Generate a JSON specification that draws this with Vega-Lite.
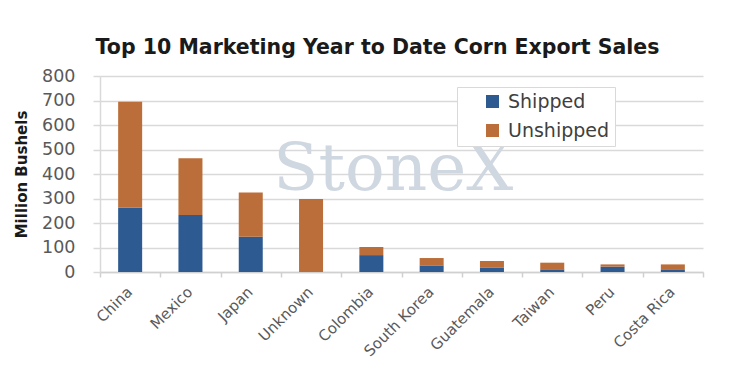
{
  "$schema": "https://vega.github.io/schema/vega-lite/v6.json",
  "width": 603,
  "height": 196,
  "autosize": {"type": "none"},
  "padding": {"left": 100, "top": 76, "right": 51, "bottom": 102},
  "background": "white",
  "title": {
    "text": "Top 10 Marketing Year to Date Corn Export Sales",
    "font": "DejaVu Sans",
    "fontSize": 20.5,
    "fontWeight": "bold",
    "color": "#1a1a1a",
    "anchor": "middle",
    "dx": -24,
    "offset": 9
  },
  "config": {
    "view": {"stroke": null},
    "font": "DejaVu Sans"
  },
  "datasets": {
    "sales": [
      {"country": "China", "status": "Shipped", "value": 262},
      {"country": "China", "status": "Unshipped", "value": 433},
      {"country": "Mexico", "status": "Shipped", "value": 233},
      {"country": "Mexico", "status": "Unshipped", "value": 231},
      {"country": "Japan", "status": "Shipped", "value": 144},
      {"country": "Japan", "status": "Unshipped", "value": 180},
      {"country": "Unknown", "status": "Shipped", "value": 0},
      {"country": "Unknown", "status": "Unshipped", "value": 298},
      {"country": "Colombia", "status": "Shipped", "value": 69},
      {"country": "Colombia", "status": "Unshipped", "value": 33},
      {"country": "South Korea", "status": "Shipped", "value": 27},
      {"country": "South Korea", "status": "Unshipped", "value": 30},
      {"country": "Guatemala", "status": "Shipped", "value": 17},
      {"country": "Guatemala", "status": "Unshipped", "value": 28},
      {"country": "Taiwan", "status": "Shipped", "value": 11},
      {"country": "Taiwan", "status": "Unshipped", "value": 27},
      {"country": "Peru", "status": "Shipped", "value": 22},
      {"country": "Peru", "status": "Unshipped", "value": 9},
      {"country": "Costa Rica", "status": "Shipped", "value": 11},
      {"country": "Costa Rica", "status": "Unshipped", "value": 20}
    ],
    "watermark": [
      {"country": "Colombia", "value": 416, "label": "StoneX"}
    ]
  },
  "layer": [
    {
      "data": {"name": "sales"},
      "mark": {"type": "bar", "width": 24},
      "encoding": {
        "x": {
          "field": "country",
          "type": "nominal",
          "sort": ["China", "Mexico", "Japan", "Unknown", "Colombia", "South Korea", "Guatemala", "Taiwan", "Peru", "Costa Rica"],
          "scale": {"paddingInner": 0, "paddingOuter": 0},
          "axis": {
            "title": null,
            "labelAngle": -45,
            "labelFontSize": 15,
            "labelColor": "#595959",
            "labelPadding": 7,
            "labelOffset": -6,
            "domainColor": "#d0d0d0",
            "domainWidth": 1.5,
            "tickColor": "#d0d0d0",
            "tickWidth": 1.5,
            "tickSize": 5,
            "tickBand": "extent",
            "grid": false
          }
        },
        "y": {
          "field": "value",
          "type": "quantitative",
          "stack": "zero",
          "scale": {"domain": [0, 800], "nice": false},
          "axis": {
            "title": "Million Bushels",
            "titleFontSize": 15,
            "titleFontWeight": "bold",
            "titleColor": "#1a1a1a",
            "titlePadding": 12,
            "values": [0, 100, 200, 300, 400, 500, 600, 700, 800],
            "labelOverlap": false,
            "labelFontSize": 17.5,
            "labelColor": "#595959",
            "labelPadding": 18,
            "tickSize": 7,
            "tickColor": "#d9d9d9",
            "tickWidth": 1.5,
            "domainColor": "#d9d9d9",
            "domainWidth": 1.5,
            "gridColor": "#d9d9d9",
            "gridWidth": 1.5
          }
        },
        "order": {"field": "status", "type": "nominal", "sort": "ascending"},
        "color": {
          "field": "status",
          "type": "nominal",
          "scale": {"domain": ["Shipped", "Unshipped"], "range": ["#2E5A92", "#BB6E39"]},
          "legend": {
            "title": null,
            "orient": "none",
            "legendX": 357,
            "legendY": 11,
            "symbolType": "square",
            "symbolSize": 169,
            "symbolStrokeWidth": 0,
            "symbolOffset": 21,
            "labelFontSize": 19,
            "labelColor": "#404040",
            "labelOffset": 6,
            "rowPadding": 9,
            "padding": 5,
            "fillColor": "white",
            "strokeColor": "#d9d9d9"
          }
        }
      }
    },
    {
      "data": {"name": "watermark"},
      "mark": {
        "type": "text",
        "font": "DejaVu Serif",
        "fontSize": 66,
        "color": "#cfd7e1",
        "dx": 22
      },
      "encoding": {
        "x": {
          "field": "country",
          "type": "nominal",
          "sort": ["China", "Mexico", "Japan", "Unknown", "Colombia", "South Korea", "Guatemala", "Taiwan", "Peru", "Costa Rica"],
          "axis": {
            "title": null,
            "labelAngle": -45,
            "labelFontSize": 15,
            "labelColor": "#595959",
            "labelPadding": 7,
            "labelOffset": -6,
            "domainColor": "#d0d0d0",
            "domainWidth": 1.5,
            "tickColor": "#d0d0d0",
            "tickWidth": 1.5,
            "tickSize": 5,
            "tickBand": "extent",
            "grid": false
          }
        },
        "y": {
          "field": "value",
          "type": "quantitative",
          "axis": {
            "title": "Million Bushels",
            "titleFontSize": 15,
            "titleFontWeight": "bold",
            "titleColor": "#1a1a1a",
            "titlePadding": 12,
            "values": [0, 100, 200, 300, 400, 500, 600, 700, 800],
            "labelOverlap": false,
            "labelFontSize": 17.5,
            "labelColor": "#595959",
            "labelPadding": 18,
            "tickSize": 7,
            "tickColor": "#d9d9d9",
            "tickWidth": 1.5,
            "domainColor": "#d9d9d9",
            "domainWidth": 1.5,
            "gridColor": "#d9d9d9",
            "gridWidth": 1.5
          }
        },
        "text": {"field": "label"}
      }
    }
  ]
}
